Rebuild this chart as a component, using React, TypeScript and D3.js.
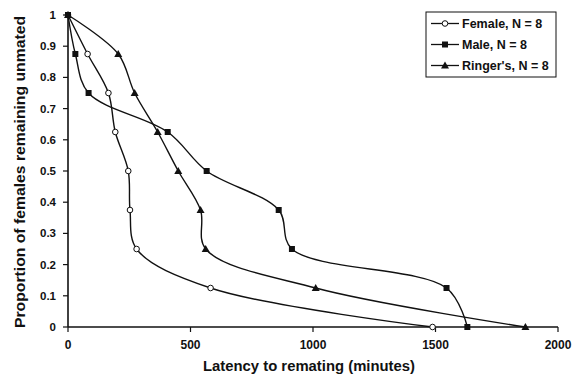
import React from "react";
import * as d3 from "d3";

const yProps = [1, 0.875, 0.75, 0.625, 0.5, 0.375, 0.25, 0.125, 0];
const femaleLatency = [0, 80, 165, 193, 246, 253, 280, 582, 1488];
const maleLatency = [0, 30, 84, 407, 566, 860, 914, 1545, 1630];
const ringerLatency = [0, 205, 272, 366, 450, 541, 562, 1011, 1867];
const seriesNames = ["Female, N = 8", "Male, N = 8", "Ringer's, N = 8"];
const xTicks = [0, 500, 1000, 1500, 2000];
const yTicks = [0, 0.1, 0.2, 0.3, 0.4, 0.5, 0.6, 0.7, 0.8, 0.9, 1];

const W = 578;
const H = 375;
const left = 68, right = 558, top = 15, bottom = 327;
const ink = "#111";
const font = "Arial, 'Liberation Sans', sans-serif";

const x = d3.scaleLinear().domain([0, 2000]).range([left, right]);
const y = d3.scaleLinear().domain([0, 1]).range([bottom, top]);

const line = d3
  .line<[number, number]>()
  .x((d) => x(d[0]))
  .y((d) => y(d[1]))
  .curve(d3.curveCatmullRom.alpha(0.5));

const series = [femaleLatency, maleLatency, ringerLatency].map((lat) =>
  lat.map((v, i) => [v, yProps[i]] as [number, number])
);

const Marker = ({ kind, cx, cy }: { kind: number; cx: number; cy: number }) => {
  if (kind === 0)
    return <circle cx={cx} cy={cy} r={2.8} fill="#fff" stroke={ink} strokeWidth={1} />;
  if (kind === 1)
    return <rect x={cx - 3} y={cy - 3} width={6} height={6} fill={ink} />;
  const s = 4;
  return (
    <path
      d={`M${cx},${cy - s}L${cx + s},${cy + s * 0.75}L${cx - s},${cy + s * 0.75}Z`}
      fill={ink}
    />
  );
};

const App = () => {
  return (
    <svg
      width={W}
      height={H}
      style={{ position: "absolute", left: 0, top: 0, background: "#fff" }}
      fontFamily={font}
    >
      {/* axes */}
      <line x1={left} y1={top} x2={left} y2={bottom} stroke={ink} strokeWidth={1.6} />
      <line x1={left} y1={bottom} x2={right} y2={bottom} stroke={ink} strokeWidth={1.6} />
      {yTicks.map((t) => (
        <g key={t}>
          <line x1={left - 5} x2={left} y1={y(t)} y2={y(t)} stroke={ink} strokeWidth={1.2} />
          <text
            x={left - 12}
            y={y(t)}
            dy="0.35em"
            textAnchor="end"
            fontSize={11.5}
            fontWeight="bold"
            fill={ink}
          >
            {+t.toFixed(1)}
          </text>
        </g>
      ))}
      {xTicks.map((t) => (
        <g key={t}>
          <line x1={x(t)} x2={x(t)} y1={bottom} y2={bottom + 5} stroke={ink} strokeWidth={1.2} />
          <text
            x={x(t)}
            y={bottom + 22}
            textAnchor="middle"
            fontSize={12}
            fontWeight="bold"
            fill={ink}
          >
            {t}
          </text>
        </g>
      ))}
      <text
        x={309}
        y={371}
        textAnchor="middle"
        fontSize={14.5}
        fontWeight="bold"
        fill={ink}
        textLength={212}
        lengthAdjust="spacingAndGlyphs"
      >
        Latency to remating (minutes)
      </text>
      <text
        transform="translate(25,172) rotate(-90)"
        textAnchor="middle"
        fontSize={14.5}
        fontWeight="bold"
        fill={ink}
        textLength={312}
        lengthAdjust="spacingAndGlyphs"
      >
        Proportion of females remaining unmated
      </text>

      {/* series */}
      {series.map((pts, k) => (
        <g key={k}>
          <path d={line(pts) || ""} fill="none" stroke={ink} strokeWidth={1.4} />
          {pts.map((p, i) => (
            <Marker key={i} kind={k} cx={x(p[0])} cy={y(p[1])} />
          ))}
        </g>
      ))}

      {/* legend */}
      <rect x={426} y={12} width={130} height={65} fill="#fff" stroke={ink} strokeWidth={1} />
      {seriesNames.map((n, k) => {
        const ly = 23.5 + k * 21;
        return (
          <g key={n}>
            <line x1={431} x2={459} y1={ly} y2={ly} stroke={ink} strokeWidth={1.3} />
            <Marker kind={k} cx={445} cy={ly} />
            <text x={462} y={ly} dy="0.35em" fontSize={12.5} fontWeight="bold" fill={ink}>
              {n}
            </text>
          </g>
        );
      })}
    </svg>
  );
};

export default App;
